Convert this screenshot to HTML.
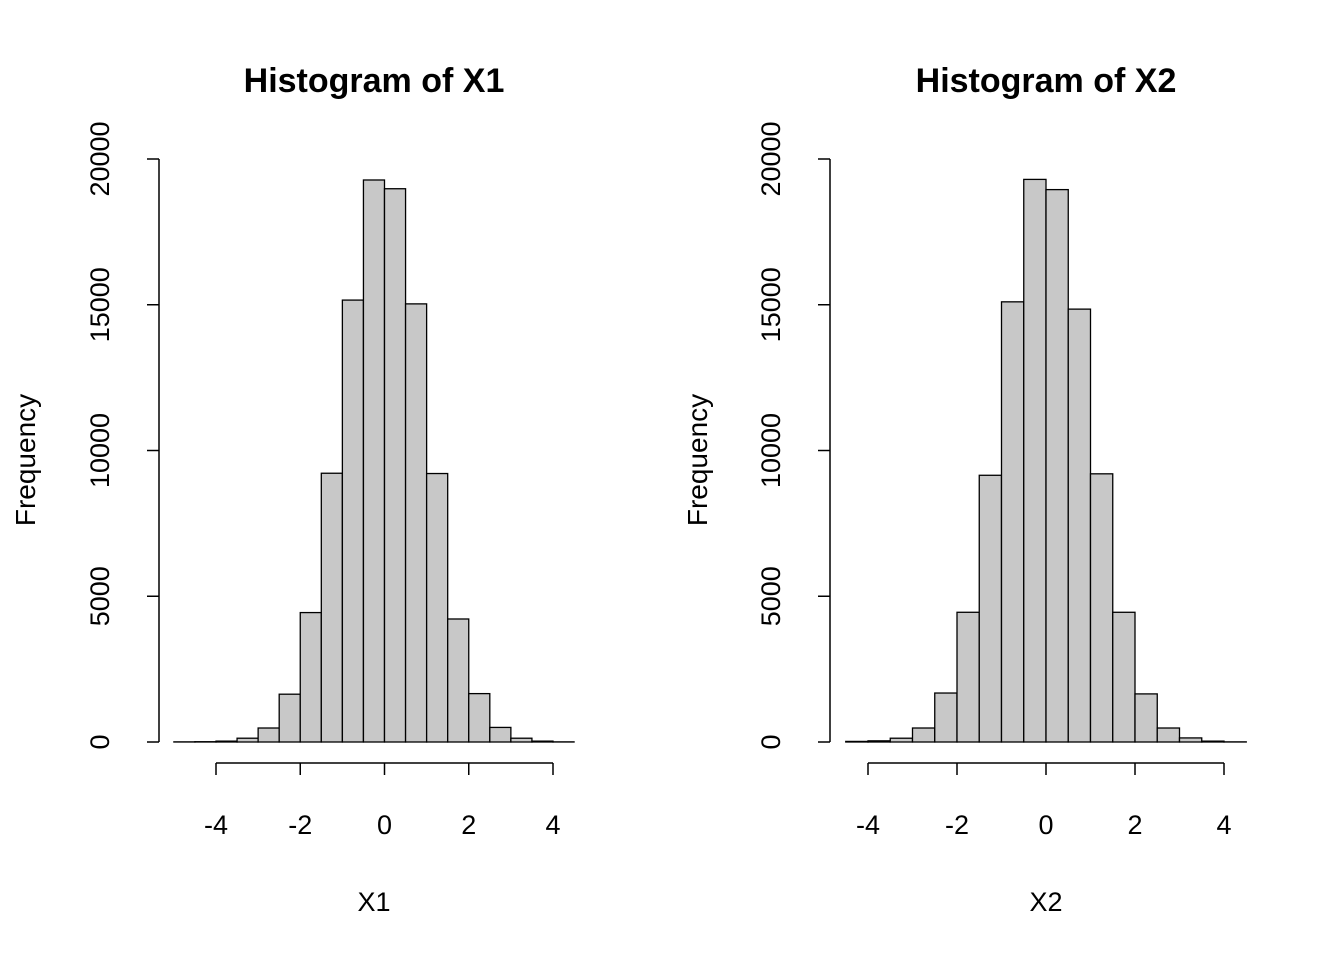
<!DOCTYPE html>
<html><head><meta charset="utf-8"><style>
body{margin:0;background:#fff}
svg text{font-family:"Liberation Sans",Arial,sans-serif;fill:#000}
</style></head><body>
<svg id="s" width="1344" height="960" xmlns="http://www.w3.org/2000/svg"></svg>
<script>
const breaks1 = [-5,-4.5,-4,-3.5,-3,-2.5,-2,-1.5,-1,-0.5,0,0.5,1,1.5,2,2.5,3,3.5,4,4.5];
const counts1 = [5,10,30,130,480,1640,4440,9220,15160,19280,18980,15030,9210,4220,1660,500,130,30,5];
const breaks2 = [-4.5,-4,-3.5,-3,-2.5,-2,-1.5,-1,-0.5,0,0.5,1,1.5,2,2.5,3,3.5,4,4.5];
const counts2 = [20,40,130,480,1680,4450,9150,15100,19300,18950,14850,9200,4450,1650,480,140,30,5];
const xTicks = [-4,-2,0,2,4];
const yTicks = [0,5000,10000,15000,20000];
const titles = ["Histogram of X1","Histogram of X2"];
const xLabels = ["X1","X2"];

const NS="http://www.w3.org/2000/svg", svg=document.getElementById('s');
function mk(tag,attrs,parent){const e=document.createElementNS(NS,tag);for(const k in attrs)e.setAttribute(k,attrs[k]);(parent||svg).appendChild(e);return e;}

const panels=[
 {breaks:breaks1,counts:counts1,xa:216,xb:553,yAxisX:159,cx:374,labX:25},
 {breaks:breaks2,counts:counts2,xa:868,xb:1224,yAxisX:830,cx:1046,labX:697}
];
panels.forEach((p,i)=>{
  const g=mk('g',{});
  
  
  const X=v=>p.xa+(v+4)*(p.xb-p.xa)/8;
  const Y=v=>742-v*(742-159)/20000;
  p.counts.forEach((c,j)=>{
    const x0=X(p.breaks[j]),x1=X(p.breaks[j+1]);
    const r=mk('rect',{x:x0,y:Y(c),width:x1-x0,height:742-Y(c),fill:'#c8c8c8',stroke:'#000','stroke-width':1.3},g);
    
    
  });
  const xa=mk('g',{},g);
  
  
  mk('line',{x1:X(xTicks[0]),x2:X(xTicks[xTicks.length-1]),y1:763,y2:763,stroke:'#000','stroke-width':1.5},xa);
  xTicks.forEach(t=>{
    mk('line',{x1:X(t),x2:X(t),y1:763,y2:775,stroke:'#000','stroke-width':1.5},xa);
    const tx=mk('text',{x:X(t),y:834,'font-size':27,'text-anchor':'middle'},xa);tx.textContent=t;
  });
  const ya=mk('g',{},g);
  
  
  mk('line',{x1:p.yAxisX,x2:p.yAxisX,y1:Y(yTicks[0]),y2:Y(yTicks[yTicks.length-1]),stroke:'#000','stroke-width':1.5},ya);
  yTicks.forEach(t=>{
    mk('line',{x1:p.yAxisX-12,x2:p.yAxisX,y1:Y(t),y2:Y(t),stroke:'#000','stroke-width':1.5},ya);
    const tx=mk('text',{x:0,y:0,'font-size':27,'text-anchor':'middle',transform:`translate(${p.yAxisX-50},${Y(t)}) rotate(-90)`},ya);tx.textContent=t;
  });
  const ti=mk('text',{x:p.cx,y:92,'font-size':34,'font-weight':'bold','text-anchor':'middle'},g);
  ti.textContent=titles[i];
  
  
  const xl=mk('text',{x:p.cx,y:911,'font-size':27,'text-anchor':'middle'},g);
  xl.textContent=xLabels[i];
  
  
  const yl=mk('text',{x:0,y:0,'font-size':28,'text-anchor':'middle',transform:`translate(${p.labX+10},460) rotate(-90)`},g);
  yl.textContent='Frequency';
  
  
});
</script>
</body></html>
